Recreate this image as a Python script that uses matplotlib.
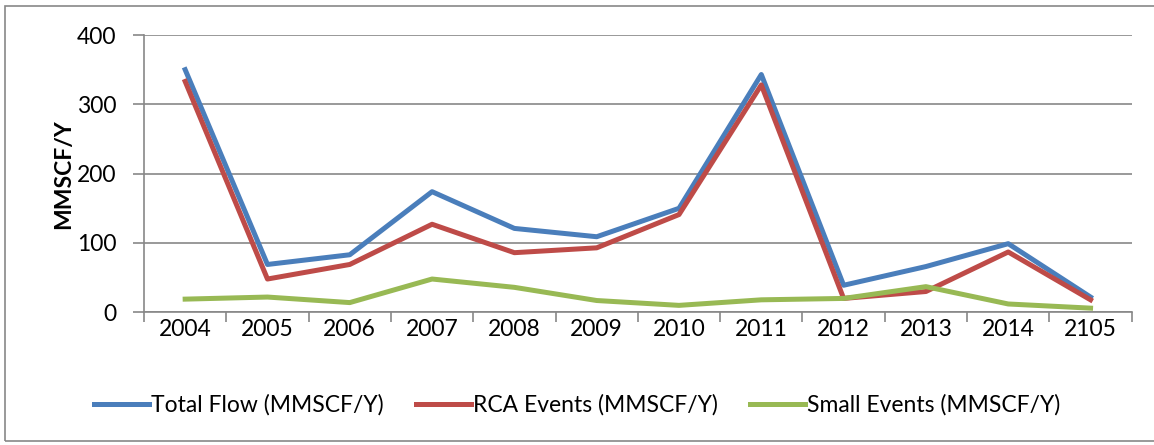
import matplotlib.pyplot as plt
from matplotlib.patches import Rectangle
import numpy as np

plt.rcParams['font.family'] = ['Lato', 'DejaVu Sans']

years = ['2004', '2005', '2006', '2007', '2008', '2009', '2010', '2011',
         '2012', '2013', '2014', '2105']
total_flow = [350, 69, 83, 174, 121, 109, 150, 343, 39, 66, 99, 22]
rca_events = [333, 48, 69, 127, 86, 93, 141, 328, 20, 30, 87, 18]
small_events = [19, 22, 14, 48, 36, 17, 10, 18, 20, 37, 12, 6]

grid_col = '#878787'

fig = plt.figure(figsize=(11.54, 4.45), dpi=100)
ax = fig.add_axes([144 / 1154, 1 - 312.3 / 445, (1131.7 - 144) / 1154, (312.3 - 35) / 445])

x = np.arange(len(years))
ax.plot(x, total_flow, color='#4A7EBB', lw=3.6, label='Total Flow (MMSCF/Y)', zorder=3)
ax.plot(x, rca_events, color='#BE4B48', lw=3.6, label='RCA Events (MMSCF/Y)', zorder=3)
ax.plot(x, small_events, color='#98B954', lw=3.6, label='Small Events (MMSCF/Y)', zorder=3)

ax.set_xlim(-0.5, len(years) - 0.5)
ax.set_ylim(0, 400)
ax.set_yticks([0, 100, 200, 300, 400])
ax.set_xticks(x)
ax.set_xticklabels(years)
ax.set_xticks(np.arange(-0.5, len(years)), minor=True)
ax.tick_params(axis='x', which='major', length=0, pad=5, labelsize=16.5)
ax.tick_params(axis='x', which='minor', length=7, width=1.2, color=grid_col)
ax.tick_params(axis='y', length=8, width=1.2, color=grid_col, pad=12, labelsize=16.5)
ax.yaxis.grid(True, color=grid_col, lw=1.2)
ax.set_axisbelow(True)
for s in ['top', 'right']:
    ax.spines[s].set_visible(False)
for s in ['left', 'bottom']:
    ax.spines[s].set_color(grid_col)
    ax.spines[s].set_linewidth(1.2)

ax.set_ylabel('MMSCF/Y', fontsize=16.5, fontweight='bold', labelpad=2)

fig.legend(loc='center', bbox_to_anchor=(0.5, 1 - 405 / 445), ncol=3, frameon=False,
           fontsize=16.5, handlelength=2.4, handletextpad=0.1, columnspacing=1.4)

fig.patches.append(Rectangle((5 / 1154, 4 / 445), 1.1, 435 / 445, transform=fig.transFigure,
                             fill=False, edgecolor=grid_col, lw=1.2))

fig.savefig('out.png', dpi=100)
